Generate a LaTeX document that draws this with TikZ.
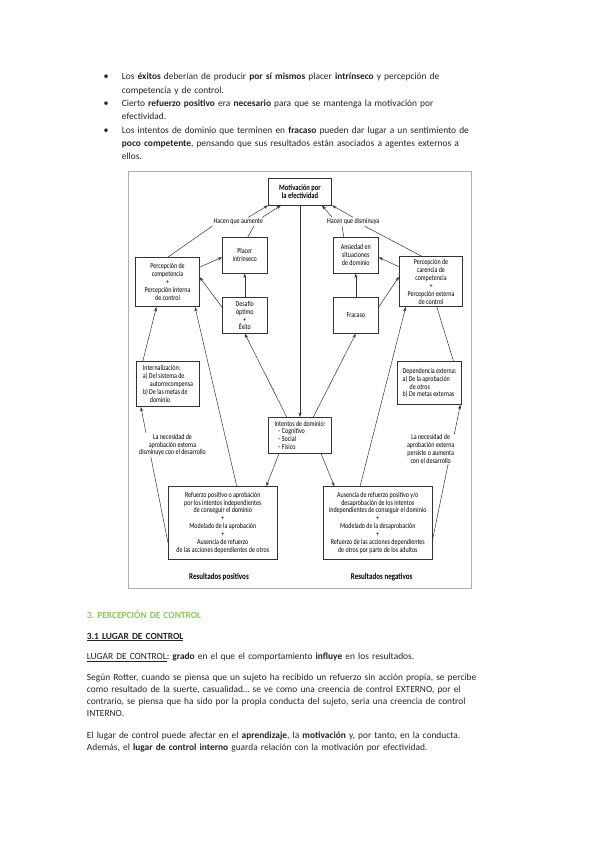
\documentclass[tikz,border=0pt]{standalone}
\usepackage{fontspec}
\setmainfont{Carlito}
\newfontfamily\figfont[FakeStretch=0.8]{Carlito}
\usetikzlibrary{arrows.meta}
\frenchspacing

\definecolor{verdeTitulo}{RGB}{137,198,88}
\definecolor{grisMarco}{RGB}{175,175,175}
\definecolor{grisLinea}{RGB}{50,50,50}
\definecolor{tinta}{RGB}{35,35,35}

\begin{document}
\begin{tikzpicture}[x=1pt, y=-1pt, >={Stealth[length=4.5pt,width=3pt]},
    caja/.style={draw=grisLinea, line width=0.55pt, align=center, inner sep=1pt,
      text=black, font=\figfont\fontsize{7.5}{7.9}\selectfont},
    rotulo/.style={align=center, inner sep=1pt, text=black, font=\figfont\fontsize{7.5}{7.9}\selectfont},
    negrita/.style={font=\figfont\bfseries\fontsize{8.2}{8.8}\selectfont},
    linea/.style={draw=grisLinea, line width=0.5pt},
    parrafo/.style={anchor=base west, align=left, inner sep=0pt, text width=450pt,
      text=tinta, font=\fontsize{9.4}{13.3}\selectfont}]
    \useasboundingbox (0,0) rectangle (599,848);

    % Viñetas de arriba
    \node[anchor=base, inner sep=0pt, text=tinta] (b1) at (106,80) {\textbullet};
    \node[parrafo] (v1) at (121.7,80) {Los \textbf{éxitos} deberían de producir \textbf{por sí mismos} placer \textbf{intrínseco} y percepción de\\competencia y de control.};
    \node[anchor=base, inner sep=0pt, text=tinta] (b2) at (106,106.6) {\textbullet};
    \node[parrafo] (v2) at (121.7,106.6) {Cierto \textbf{refuerzo positivo} era \textbf{necesario} para que se mantenga la motivación por\\efectividad.};
    \node[anchor=base, inner sep=0pt, text=tinta] (b3) at (106,133.2) {\textbullet};
    \node[parrafo] (v3) at (121.7,133.2) {Los intentos de dominio que terminen en \textbf{fracaso} pueden dar lugar a un sentimiento de\\\textbf{poco competente}, pensando que sus resultados están asociados a agentes externos a\\ellos.};

    % Marco de la figura
    \draw[grisMarco, line width=0.8pt] (128.3,171.7) rectangle (471,588.3);

    % Cajas
    \node[caja, negrita, minimum width=63.3pt, minimum height=26.7pt] (motiv) at (300,191.7) {Motivación por\\la efectividad};
    \node[caja, minimum width=63.7pt, minimum height=49pt] (percI) at (167.5,282.2) {Percepción de\\competencia\\+\\Percepción interna\\de control};
    \node[caja, minimum width=45pt, minimum height=36pt] (placer) at (244.8,255.3) {Placer\\intrínseco};
    \node[caja, minimum width=45pt, minimum height=35.7pt] (desafio) at (244.8,315.5) {Desafío\\óptimo\\+\\Éxito};
    \node[caja, minimum width=45pt, minimum height=36pt] (ansiedad) at (355.8,255.3) {Ansiedad en\\situaciones\\de dominio};
    \node[caja, minimum width=45pt, minimum height=35.7pt] (fracaso) at (355.8,315.5) {Fracaso};
    \node[caja, minimum width=63.3pt, minimum height=50pt] (percE) at (431,281.7) {Percepción de\\carencia de\\competencia\\+\\Percepción externa\\de control};
    \node[caja, align=left, minimum width=62.7pt, minimum height=45pt] (intern) at (168,384.2) {Internalización:\\a) Del sistema de\\\hspace*{7pt}autorrecompensa\\b) De las metas de\\\hspace*{7pt}dominio};
    \node[caja, align=left, minimum width=64.3pt, minimum height=42.7pt] (depend) at (429.5,383) {Dependencia externa:\\a) De la aprobación\\\hspace*{7pt}de otros\\b) De metas externas};
    \node[caja, align=left, minimum width=63.3pt, minimum height=36pt] (intentos) at (300,435.3) {Intentos de dominio:\\\hspace*{3pt}– Cognitivo\\\hspace*{3pt}– Social\\\hspace*{3pt}– Físico};
    \node[caja, minimum width=109pt, minimum height=72.3pt] (refpos) at (222.8,522.8) {Refuerzo positivo o aprobación\\por los intentos independientes\\de conseguir el dominio\\+\\Modelado de la aprobación\\+\\Ausencia de refuerzo\\de las acciones dependientes de otros};
    \node[caja, minimum width=109pt, minimum height=72.3pt] (ausneg) at (377.8,522.8) {Ausencia de refuerzo positivo y/o\\desaprobación de los intentos\\independientes de conseguir el dominio\\+\\Modelado de la desaprobación\\+\\Refuerzo de las acciones dependientes\\de otros por parte de los adultos};

    % Rótulos
    \node[rotulo] (aum) at (238.3,221.7) {Hacen que aumente};
    \node[rotulo] (dis) at (353.3,221.7) {Hacen que disminuya};
    \node[rotulo, font=\figfont\bfseries\fontsize{8.8}{9.4}\selectfont] (rpos) at (219,577.3) {Resultados positivos};
    \node[rotulo, font=\figfont\bfseries\fontsize{8.8}{9.4}\selectfont] (rneg) at (381.7,577.3) {Resultados negativos};

    % Flechas hacia la motivación
    \draw[linea] (percI.north) -- (aum.south west);
    \draw[linea,->] ([xshift=-16pt]aum.north east) -- (motiv.south west);
    \draw[linea] ([xshift=3pt]placer.north) -- ([xshift=-10pt]aum.south east);
    \draw[linea,->] ([xshift=-2pt]aum.north east) -- ([xshift=13pt]motiv.south west);
    \draw[linea] ([xshift=-12pt]ansiedad.north) -- ([xshift=16pt]dis.south west);
    \draw[linea,->] ([xshift=6pt]dis.north west) -- ([xshift=-10pt]motiv.south east);
    \draw[linea] ([xshift=-9pt]percE.north) -- ([xshift=-16pt]dis.south east);
    \draw[linea,->] ([xshift=27pt]dis.north west) -- (motiv.south east);
    \draw[linea,->] (motiv) -- (intentos);

    % Flechas entre cajas
    \draw[linea,->] (desafio) -- (placer);
    \draw[linea,->] (desafio.160) -- (percI.9);
    \draw[linea,->] (percI.25) -- (placer.185);
    \draw[linea,->] (fracaso) -- (ansiedad);
    \draw[linea,->] (fracaso.20) -- (percE.171);
    \draw[linea,->] (percE.155) -- (ansiedad.-5);
    \draw[linea,->] (intentos.126) -- (desafio.south);
    \draw[linea,->] (intentos.54) -- (fracaso.south);
    \draw[linea,->] (intentos.221) -- (refpos.40);
    \draw[linea,->] (intentos.319) -- (ausneg.140);
    \draw[linea,->] (refpos.69) -- (percI.-42);
    \draw[linea,->] (refpos.200) -- (intern.220);
    \draw[linea,->] (intern.138) -- (percI.246);
    \draw[linea,->] (ausneg.116) -- (percE.225);
    \draw[linea,->] (ausneg.-17) -- (depend.-35);
    \draw[linea] (depend.42) -- (percE.-77);

    % Rótulos de la necesidad de aprobación (tapan las líneas)
    \node[rotulo, fill=white] (necI) at (172.5,445) {La necesidad de\\aprobación externa\\disminuye con el desarrollo};
    \node[rotulo, fill=white] (necE) at (430.7,449) {La necesidad de\\aprobación externa\\persiste o aumenta\\con el desarrollo};

    % Texto de abajo
    \node[parrafo, text=verdeTitulo, font=\bfseries\fontsize{9.4}{13.3}\selectfont] (tit) at (86.7,618.4) {3. PERCEPCIÓN DE CONTROL};
    \node[parrafo] (sub) at (86.7,639) {\textbf{\underline{3.1 LUGAR DE CONTROL}}};
    \node[parrafo] (def) at (86.7,659.5) {\underline{LUGAR DE CONTROL}: \textbf{grado} en el que el comportamiento \textbf{influye} en los resultados.};
    \node[parrafo, font=\fontsize{9.4}{12.3}\selectfont] (rot) at (86.7,680) {Según Rotter, cuando se piensa que un sujeto ha recibido un refuerzo sin acción propia, se percibe\\como resultado de la suerte, casualidad… se ve como una creencia de control EXTERNO, por el\\contrario, se piensa que ha sido por la propia conducta del sujeto, seria una creencia de control\\INTERNO.};
    \node[parrafo, font=\fontsize{9.4}{12.3}\selectfont] (efe) at (86.7,738) {El lugar de control puede afectar en el \textbf{aprendizaje}, la \textbf{motivación} y, por tanto, en la conducta.\\Además, el \textbf{lugar de control interno} guarda relación con la motivación por efectividad.};
\end{tikzpicture}
\end{document}
